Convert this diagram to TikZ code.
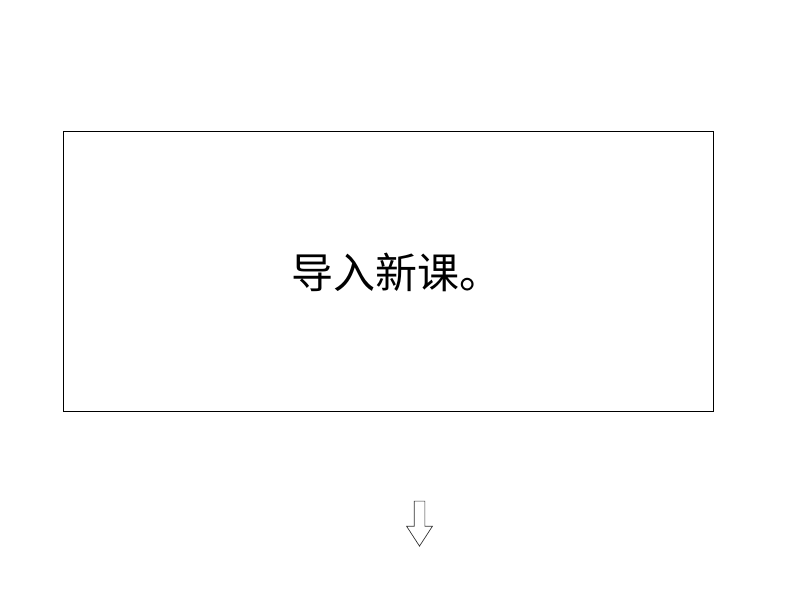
\documentclass[tikz,border=0pt]{standalone}
\usepackage{fontspec}
\usepackage{tikz}
\usetikzlibrary{shapes.arrows}
\newfontfamily\cjk{Noto Sans CJK SC}

\begin{document}
\begin{tikzpicture}[x=1pt,y=-1pt]

        \useasboundingbox (0,0) rectangle (794,596);

        % frame corners
        \coordinate (TL) at (63,131);
        \coordinate (BR) at (713,411);

        \draw[line width=0.8pt] (TL) rectangle (BR);

        \node[font=\cjk\fontsize{42}{44}\selectfont] (title) at (396,272) {导入新课。};

        % hollow down arrow
        \node[draw=black!80, line width=0.7pt, shape=single arrow, rotate=-90,
              inner xsep=0pt, inner ysep=5pt, minimum height=45pt,
              single arrow head extend=7.5pt, single arrow tip angle=66]
              (down) at (419.5,519.5) {};
    \end{tikzpicture}
\end{document}
